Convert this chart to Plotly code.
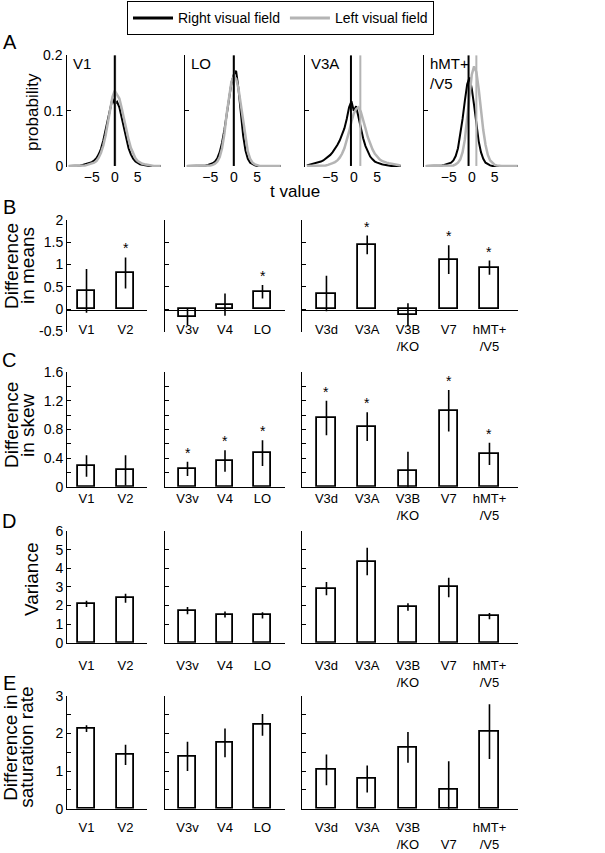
import plotly.graph_objects as go

W, H = 605, 853
FONT = "Liberation Sans, Arial, Helvetica, sans-serif"
GRAY = "#b4b4b4"

# ---------------- Panel A data (t-value distributions) ----------------
t_values = [-10, -9.5, -9, -8.5, -8, -7.5, -7, -6.5, -6, -5.5, -5, -4.5, -4, -3.5, -3, -2.5, -2, -1.5, -1, -0.5,
            0, 0.5, 1, 1.5, 2, 2.5, 3, 3.5, 4, 4.5, 5, 5.5, 6, 6.5, 7, 7.5, 8, 8.5, 9, 9.5, 10]
a_regions = ["V1", "LO", "V3A", "hMT+<br>/V5"]

right_V1 = [0, 0, 0, 0, 0.001, 0.001, 0.002, 0.003, 0.004, 0.005, 0.007, 0.010, 0.014, 0.021, 0.031, 0.046, 0.064, 0.085, 0.105, 0.122,
            0.112, 0.116, 0.106, 0.088, 0.066, 0.047, 0.032, 0.021, 0.013, 0.008, 0.005, 0.003, 0.002, 0.001, 0.001, 0, 0, 0, 0, 0, 0]
left_V1 = [0, 0, 0, 0, 0, 0, 0, 0.001, 0.002, 0.003, 0.004, 0.006, 0.009, 0.015, 0.024, 0.037, 0.055, 0.078, 0.100, 0.125,
           0.136, 0.130, 0.122, 0.105, 0.085, 0.066, 0.048, 0.033, 0.022, 0.014, 0.009, 0.006, 0.004, 0.003, 0.002, 0.001, 0.001, 0, 0, 0, 0]
right_LO = [0, 0, 0, 0, 0, 0, 0, 0, 0.001, 0.002, 0.003, 0.005, 0.008, 0.014, 0.025, 0.042, 0.065, 0.095, 0.125, 0.150,
            0.165, 0.172, 0.140, 0.095, 0.055, 0.028, 0.013, 0.006, 0.003, 0.001, 0, 0, 0, 0, 0, 0, 0, 0, 0, 0, 0]
left_LO = [0, 0, 0, 0, 0, 0, 0, 0, 0, 0, 0.001, 0.002, 0.004, 0.008, 0.016, 0.032, 0.058, 0.095, 0.128, 0.152,
           0.162, 0.158, 0.140, 0.112, 0.078, 0.048, 0.026, 0.013, 0.006, 0.003, 0.001, 0, 0, 0, 0, 0, 0, 0, 0, 0, 0]
right_V3A = [0.001, 0.002, 0.003, 0.004, 0.005, 0.006, 0.008, 0.010, 0.013, 0.016, 0.020, 0.025, 0.031, 0.038, 0.046, 0.056, 0.068, 0.085, 0.106, 0.117,
             0.100, 0.108, 0.088, 0.068, 0.050, 0.036, 0.025, 0.017, 0.012, 0.008, 0.006, 0.004, 0.003, 0.002, 0.001, 0.001, 0, 0, 0, 0, 0]
left_V3A = [0, 0, 0, 0, 0, 0, 0, 0, 0.001, 0.002, 0.003, 0.005, 0.007, 0.010, 0.015, 0.022, 0.032, 0.045, 0.062, 0.080,
            0.095, 0.103, 0.106, 0.098, 0.085, 0.068, 0.052, 0.040, 0.030, 0.022, 0.016, 0.012, 0.009, 0.007, 0.006, 0.005, 0.004, 0.003, 0.003, 0.002, 0.001]
right_MT = [0, 0, 0, 0, 0, 0, 0.001, 0.001, 0.002, 0.003, 0.004, 0.006, 0.010, 0.018, 0.032, 0.055, 0.085, 0.118, 0.148, 0.160,
            0.140, 0.110, 0.075, 0.045, 0.025, 0.013, 0.006, 0.003, 0.001, 0, 0, 0, 0, 0, 0, 0, 0, 0, 0, 0, 0]
left_MT = [0, 0, 0, 0, 0, 0, 0, 0, 0, 0, 0, 0, 0.001, 0.003, 0.006, 0.012, 0.025, 0.048, 0.085, 0.130,
           0.165, 0.180, 0.170, 0.140, 0.100, 0.065, 0.038, 0.020, 0.010, 0.005, 0.002, 0.001, 0, 0, 0, 0, 0, 0, 0, 0, 0]

right_curves = [right_V1, right_LO, right_V3A, right_MT]
left_curves = [left_V1, left_LO, left_V3A, left_MT]
right_means = [0.0, 0.0, -0.6, -0.7]
left_means = [0.1, 0.05, 1.4, 1.0]
A_yticks = [0, 0.1, 0.2]
A_yticktext = ["0", "0.1", "0.2"]

# ---------------- Panels B-E data ----------------
bar_regions = ["V1", "V2", "V3v", "V4", "LO", "V3d", "V3A", "V3B", "V7", "hMT+"]
region_group = [0, 0, 1, 1, 1, 2, 2, 2, 2, 2]
labels_std = ["V1", "V2", "V3v", "V4", "LO", "V3d", "V3A", "V3B<br>/KO", "V7", "hMT+<br>/V5"]
labels_E = ["V1", "V2", "V3v", "V4", "LO", "V3d", "V3A", "V3B<br>/KO", " <br>V7", "hMT+<br>/V5"]

B_mean = [0.41, 0.81, -0.18, 0.10, 0.39, 0.35, 1.44, -0.13, 1.11, 0.93]
B_err = [0.49, 0.35, 0.18, 0.25, 0.15, 0.40, 0.21, 0.26, 0.32, 0.16]
B_sig = [0, 1, 0, 0, 1, 0, 1, 0, 1, 1]
C_mean = [0.29, 0.23, 0.25, 0.36, 0.47, 0.96, 0.84, 0.22, 1.06, 0.46]
C_err = [0.15, 0.21, 0.10, 0.15, 0.18, 0.24, 0.20, 0.27, 0.29, 0.155]
C_sig = [0, 0, 1, 1, 1, 1, 1, 0, 1, 1]
D_mean = [2.09, 2.39, 1.73, 1.52, 1.47, 2.91, 4.36, 1.92, 2.97, 1.43]
D_err = [0.17, 0.24, 0.20, 0.16, 0.17, 0.35, 0.74, 0.20, 0.52, 0.17]
D_sig = [0, 0, 0, 0, 0, 0, 0, 0, 0, 0]
E_mean = [2.13, 1.43, 1.39, 1.75, 2.23, 1.03, 0.79, 1.63, 0.50, 2.05]
E_err = [0.09, 0.27, 0.39, 0.38, 0.29, 0.41, 0.36, 0.41, 0.76, 0.73]
E_sig = [0, 0, 0, 0, 0, 0, 0, 0, 0, 0]

B_ticks = [-0.5, 0, 0.5, 1, 1.5, 2]
B_ticktext = ["-0.5", "0", "0.5", "1", "1.5", "2"]
C_ticks = [0, 0.2, 0.4, 0.6, 0.8, 1.0, 1.2, 1.4, 1.6]
C_ticktext = ["0", "", "0.4", "", "0.8", "", "1.2", "", "1.6"]
D_ticks = [0, 1, 2, 3, 4, 5, 6]
D_ticktext = ["0", "1", "2", "3", "4", "5", "6"]
E_ticks = [0, 0.5, 1, 1.5, 2, 2.5, 3]
E_ticktext = ["0", "", "1", "", "2", "", "3"]


def xd(a, b):
    return [a / W, b / W]


def yd(top, bot):
    return [1 - bot / H, 1 - top / H]


fig = go.Figure()
layout = {}
annotations = []
TICKFONT = dict(size=14, family=FONT, color="black")

# ---------------- Panel A ----------------
a_xdom = [(67, 163), (185, 283), (305, 403), (424, 520)]
a_ydom = (48, 162)
for i in range(4):
    n = i + 1
    xa = "x" if n == 1 else f"x{n}"
    ya = "y" if n == 1 else f"y{n}"
    fig.add_trace(go.Scatter(x=t_values, y=right_curves[i], mode="lines", line=dict(color="black", width=2),
                             xaxis=xa, yaxis=ya, showlegend=False, hoverinfo="skip"))
    fig.add_trace(go.Scatter(x=t_values, y=left_curves[i], mode="lines", line=dict(color=GRAY, width=2.5),
                             xaxis=xa, yaxis=ya, showlegend=False, hoverinfo="skip"))
    fig.add_trace(go.Scatter(x=[left_means[i], left_means[i]], y=[0, 0.2], mode="lines",
                             line=dict(color=GRAY, width=2), xaxis=xa, yaxis=ya, showlegend=False, hoverinfo="skip"))
    fig.add_trace(go.Scatter(x=[right_means[i], right_means[i]], y=[0, 0.2], mode="lines",
                             line=dict(color="black", width=2), xaxis=xa, yaxis=ya, showlegend=False, hoverinfo="skip"))
    layout["xaxis" if n == 1 else f"xaxis{n}"] = dict(
        domain=xd(*a_xdom[i]), range=[-10.4, 10.5], anchor=ya, tickvals=[-5, 0, 5], ticks="",
        showline=False, showgrid=False, zeroline=False, tickfont=TICKFONT)
    layout["yaxis" if n == 1 else f"yaxis{n}"] = dict(
        domain=yd(*a_ydom), range=[-0.0018, 0.2005], anchor=xa, tickvals=A_yticks,
        ticktext=A_yticktext[:-1] + [""], showticklabels=(n == 1), ticks="inside", ticklen=4,
        tickcolor="black", showline=True, linecolor="black", linewidth=1, showgrid=False, zeroline=False,
        tickfont=TICKFONT)
    annotations.append(dict(x=(a_xdom[i][0] + 4) / W, y=1 - 46 / H, xref="paper", yref="paper",
                            text=a_regions[i], showarrow=False, xanchor="left", yanchor="top", align="left",
                            font=dict(size=15, family=FONT, color="black")))
# top tick label of the first distribution axis (drawn next to its tick)
annotations.append(dict(x=(a_xdom[0][0] - 2) / W, y=A_yticks[-1], xref="paper", yref="y",
                        text=A_yticktext[-1], showarrow=False, xanchor="right", yanchor="middle",
                        font=TICKFONT))

# legend entries
fig.add_trace(go.Scatter(x=[None], y=[None], mode="lines", line=dict(color="black", width=3),
                         name="Right visual field", xaxis="x", yaxis="y", showlegend=True))
fig.add_trace(go.Scatter(x=[None], y=[None], mode="lines", line=dict(color=GRAY, width=3),
                         name="Left visual field", xaxis="x", yaxis="y", showlegend=True))

# ---------------- Panels B-E ----------------
g_xdom = [(67, 147), (165, 285), (302, 518)]
g_xrange = [(-0.5, 1.55), (-0.6, 2.6), (-0.6, 4.7)]
B_ydom = (216, 330)
B_yrange = [-0.51, 2.0]
panels = [
    ("B", B_mean, B_err, B_sig, B_ydom, B_yrange, B_ticks, B_ticktext, labels_std, 308),
    ("C", C_mean, C_err, C_sig, (371, 488), [0, 1.6], C_ticks, C_ticktext, labels_std, None),
    ("D", D_mean, D_err, D_sig, (533, 647), [0, 6], D_ticks, D_ticktext, labels_std, None),
    ("E", E_mean, E_err, E_sig, (701, 816), [0, 3], E_ticks, E_ticktext, labels_E, None),
]
standoff = {"B": 7, "C": 0, "D": 11, "E": 7}

n = 4
for (pname, means, errs, sig, ydom, yrange, yticks, yticktext, labels, zero_px) in panels:
    for g in range(3):
        n += 1
        xa, ya = f"x{n}", f"y{n}"
        idx = [k for k in range(len(bar_regions)) if region_group[k] == g]
        cats = [bar_regions[k] for k in idx]
        fig.add_trace(go.Bar(
            x=cats, y=[means[k] for k in idx], width=0.45, xaxis=xa, yaxis=ya,
            marker=dict(color="white", line=dict(color="black", width=1.8)),
            error_y=dict(type="data", array=[errs[k] for k in idx], color="black", thickness=1.6, width=0),
            showlegend=False, hoverinfo="skip"))
        xax = dict(domain=xd(*g_xdom[g]), range=list(g_xrange[g]), type="category",
                   tickvals=cats, ticktext=[labels[k] for k in idx], ticks="",
                   showgrid=False, zeroline=False, showline=True, linecolor="black", linewidth=1,
                   ticklabelstandoff=standoff[pname],
                   tickfont=dict(size=13, family=FONT, color="black"))
        if zero_px is not None:
            xax.update(anchor="free", position=1 - zero_px / H)
        else:
            xax.update(anchor=ya)
        layout[f"xaxis{n}"] = xax
        ytext = list(yticktext)
        if pname == "B" and g == 0:
            ytext[0] = ""   # lowest label placed explicitly next to its tick
            frac = (yticks[0] - yrange[0]) / (yrange[1] - yrange[0])
            ypix = ydom[1] - frac * (ydom[1] - ydom[0])
            annotations.append(dict(x=(g_xdom[0][0] - 2) / W, y=1 - ypix / H, xref="paper", yref="paper",
                                    text=yticktext[0], showarrow=False, xanchor="right", yanchor="middle",
                                    font=TICKFONT))
        layout[f"yaxis{n}"] = dict(
            domain=yd(*ydom), range=yrange, anchor=xa, tickvals=yticks, ticktext=ytext,
            showticklabels=(g == 0), ticks="inside", ticklen=4, tickcolor="black",
            showline=True, linecolor="black", linewidth=1, showgrid=False, zeroline=False,
            tickfont=TICKFONT)
        for k in idx:
            if sig[k]:
                annotations.append(dict(x=bar_regions[k], y=means[k] + errs[k], xref=xa, yref=ya,
                                        text="*", showarrow=False, yanchor="bottom", yshift=-1,
                                        font=dict(size=14, family=FONT, color="black")))


def txt(text, x, y, size, angle=0, xanchor="center", yanchor="middle"):
    annotations.append(dict(text=text, x=x / W, y=1 - y / H, xref="paper", yref="paper", showarrow=False,
                            textangle=angle, xanchor=xanchor, yanchor=yanchor,
                            font=dict(size=size, family=FONT, color="black")))

txt("A", 10, 35, 20)
txt("B", 9, 203, 20)
txt("C", 9, 359, 20)
txt("D", 9, 523, 20)
txt("E", 9, 688, 20)
txt("t value", 295, 187, 17)
txt("probability", 32, 106, 17, angle=-90)
txt("Difference", 11, 263, 19, angle=-90)
txt("in means", 27, 263, 19, angle=-90)
txt("Difference", 11, 425, 19, angle=-90)
txt("in skew", 27, 425, 19, angle=-90)
txt("Variance", 31, 582, 19, angle=-90)
txt("Difference in", 11, 754, 19, angle=-90)
txt("saturation rate", 27, 754, 19, angle=-90)

layout.update(
    width=W, height=H, autosize=False, margin=dict(l=0, r=0, t=0, b=0),
    paper_bgcolor="white", plot_bgcolor="white",
    font=dict(family=FONT, color="black"),
    annotations=annotations, bargap=0,
    legend=dict(orientation="h", x=127 / W, y=1.008, xanchor="left", yanchor="top",
                bordercolor="black", borderwidth=1, bgcolor="white",
                font=dict(size=14, family=FONT, color="black"), itemwidth=40),
)
fig.update_layout(**layout)
fig.write_html("out.html", config={"displayModeBar": False},
               post_script="document.body.style.margin='0';")
